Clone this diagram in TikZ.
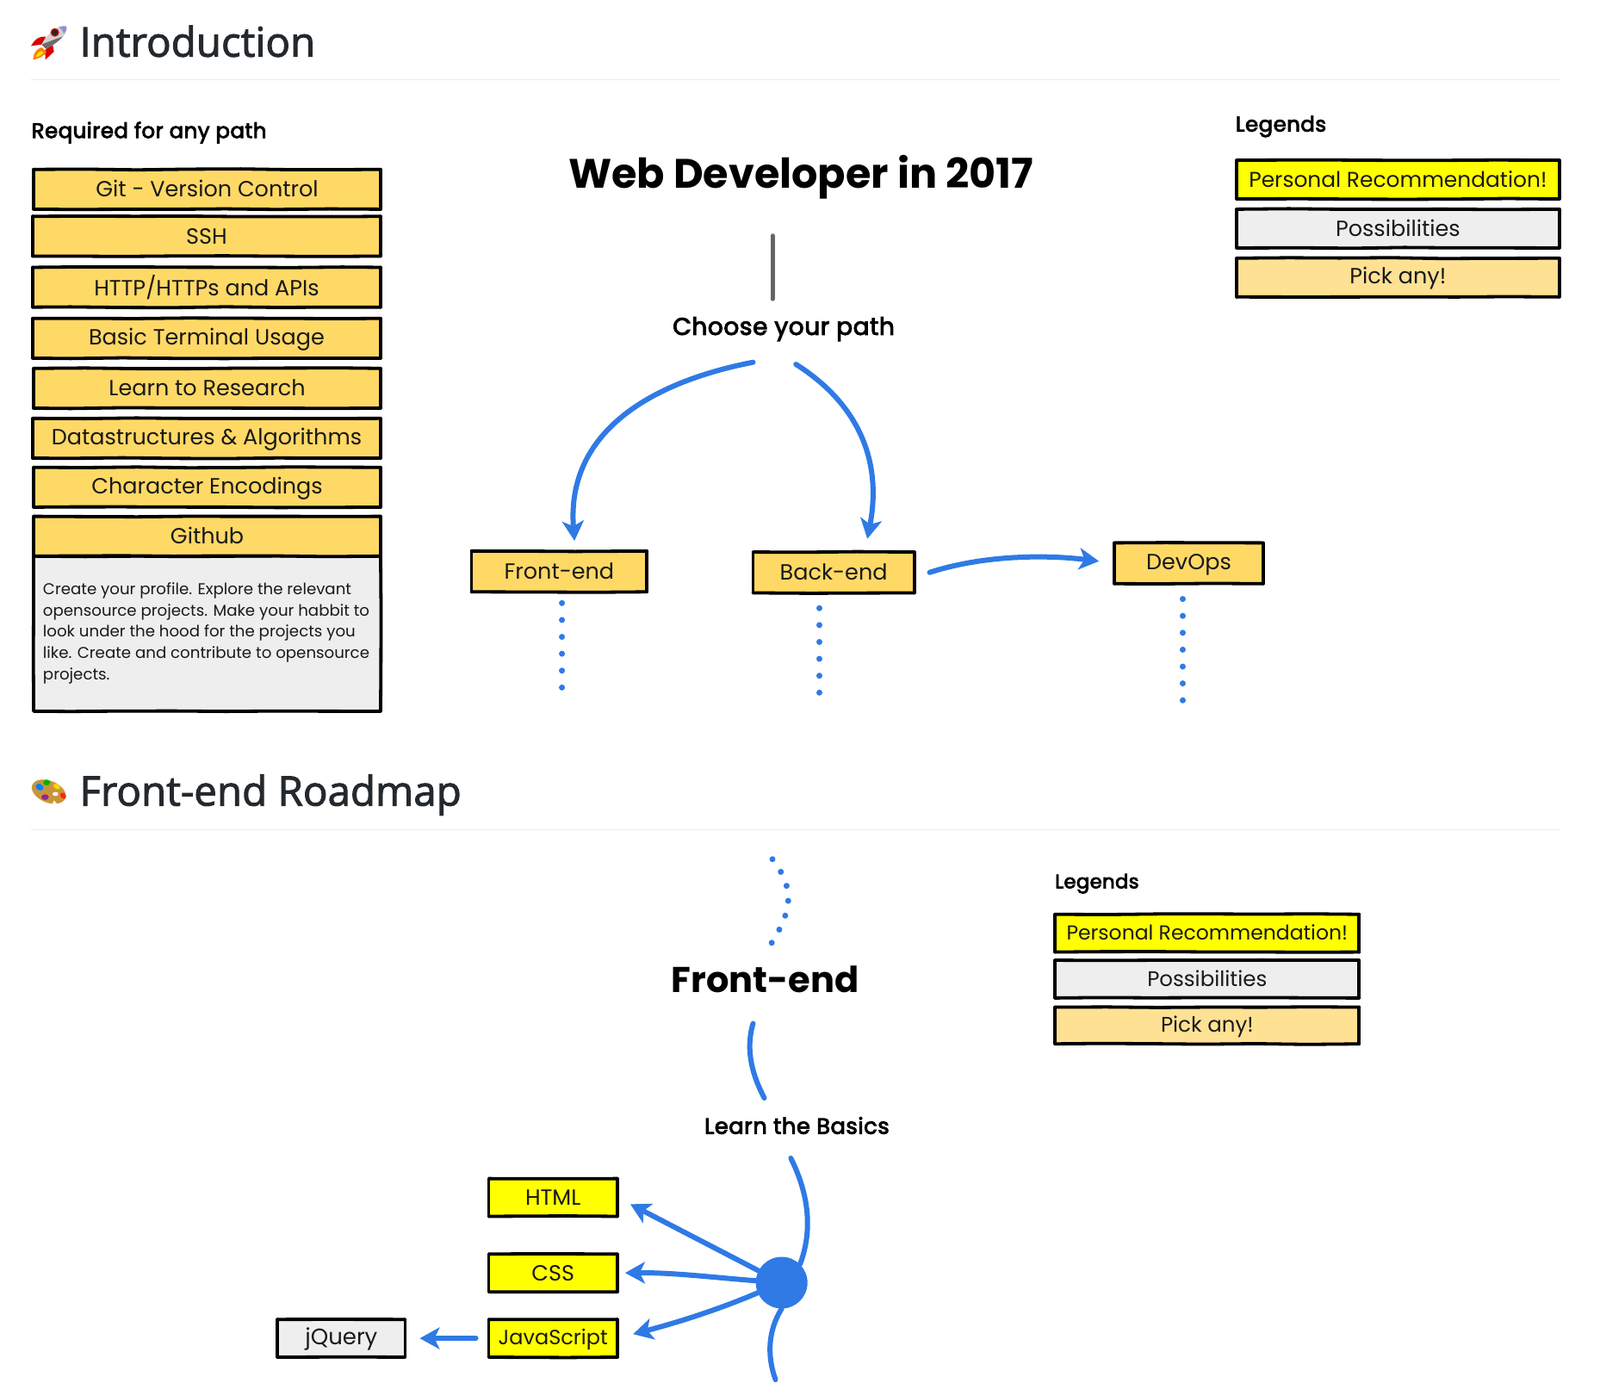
\documentclass[tikz,border=0pt]{standalone}
\usepackage{fontspec}
\usetikzlibrary{arrows.meta,decorations.pathmorphing,shapes.geometric}
\setmainfont{Poppins}
\newfontfamily\headfont{Open Sans}[FakeBold=2]
\newfontfamily\lblfont{Poppins}[FakeBold=3.5,LetterSpace=2]
\definecolor{gold}{HTML}{FFD966}
\definecolor{pale}{HTML}{FFE194}
\definecolor{greybox}{HTML}{EEEEEE}
\definecolor{yel}{HTML}{FFFF00}
\definecolor{blu}{HTML}{2F7AE5}
\definecolor{ink}{HTML}{24292E}
\definecolor{rulecol}{HTML}{EAECEF}
\definecolor{wood}{HTML}{C9953B}
\tikzset{
  sketchbox/.style={inner sep=0pt,outer sep=0pt,align=center,
     font=\fontsize{25.5}{28}\selectfont,text=black!90},
  boxsize/.style={font=\fontsize{#1}{28}\selectfont},
  handline/.style={draw=black,line width=3.8pt,line cap=round,
     decorate,decoration={random steps,segment length=60pt,amplitude=0.6pt}},
  label/.style={inner sep=0pt,outer sep=0pt,text=black,font=\lblfont\fontsize{24.4}{28}\selectfont},
  bigtitle/.style={inner sep=0pt,outer sep=0pt,text=black},
  head/.style={inner sep=0pt,outer sep=0pt,anchor=base west,text=ink,font=\headfont\fontsize{47.5}{50}\selectfont},
  rulel/.style={draw=rulecol,line width=1.6pt},
  flow/.style={draw=blu,line width=6pt,line cap=round},
  arrowed/.style={flow,-{Stealth[length=23pt,width=25pt,inset=6pt]}},
  dots/.style={draw=blu,line width=7pt,line cap=round,dash pattern=on 0.01pt off 19.6pt},
  curvedots/.style={dots,dash pattern=on 0.01pt off 17.6pt},
  stub/.style={draw=gray!80!black,line width=5pt,line cap=round},
}
% \bx[extra]{x1}{y1}{x2}{y2}{fill}{name}{text}
\newcommand{\bx}[8][]{%
  \node[sketchbox,fill=#6,minimum width={(#4-#2)*1.18495pt},minimum height={(#5-#3)*1.18495pt},#1] (#7) at ({(#2+#4)/2},{(#3+#5)/2}) {\vphantom{Aj}\raisebox{-2.4pt}{#8}};
  \draw[handline] (#7.north west) -- (#7.north east);
  \draw[handline] (#7.north east) -- (#7.south east);
  \draw[handline] (#7.south east) -- (#7.south west);
  \draw[handline] (#7.south west) -- (#7.north west);
}
\begin{document}
\begin{tikzpicture}[x=1.18495pt,y=-1.18495pt]
\useasboundingbox (0,0) rectangle (1568,1355.3);
\fill[white] (0,0) rectangle (1568,1355.3);
% headings
\node[head] (h1) at (78,55.5) {Introduction};
\draw[rulel] (30,78) -- (1529,78);
\node[head] (h2) at (78,789.5) {Front-end Roadmap};
\draw[rulel] (30,813) -- (1529,813);
% rocket
\begin{scope}[x=0.3333pt,y=-0.3333pt,shift={(20pt,-10pt)}]
 \fill[red!85!black] (100,98) .. controls (85,95) and (65,100) .. (48,130) -- (85,125) -- cycle;
 \fill[red!85!black] (122,118) -- (128,150) -- (98,178) -- (97,145) -- cycle;
 \fill[orange] (85,135) .. controls (65,140) and (55,160) .. (55,178) .. controls (75,175) and (95,165) .. (102,150) -- cycle;
 \fill[yellow!80!orange] (82,148) .. controls (70,152) and (65,165) .. (64,170) .. controls (75,168) and (88,160) .. (92,152) -- cycle;
 \fill[gray!35] (172,62) .. controls (145,58) and (115,72) .. (85,125) -- (100,140) .. controls (150,115) and (175,90) .. (172,62) -- cycle;
 \fill[gray!85!black] (85,125) -- (100,140) .. controls (125,128) and (145,113) .. (158,98) .. controls (135,105) and (110,115) .. (85,125) -- cycle;
 \fill[blue!45!gray!60] (172,62) .. controls (160,60) and (150,62) .. (145,64) .. controls (155,72) and (160,80) .. (163,88) .. controls (170,80) and (173,72) .. (172,62) -- cycle;
 \fill[red!85!black] (131,83) circle (15);
 \fill[black!85] (131,83) circle (10);
\end{scope}
% palette
\begin{scope}[x=0.3333pt,y=-0.3333pt,shift={(20pt,-890pt)}]
 \fill[wood] (110,88) ellipse [x radius=62,y radius=38,rotate=-22];
 \fill[white] (133,96) ellipse [x radius=10,y radius=7];
 \fill[white] (122,135) -- (128,118) -- (142,135) -- cycle;
 \fill[blue!50!cyan] (78,72) ellipse [x radius=14,y radius=11,rotate=-30];
 \fill[green!70!black] (103,56) ellipse [x radius=12,y radius=10];
 \fill[yellow!75!orange] (138,70) ellipse [x radius=13,y radius=8,rotate=-30];
 \fill[red!70!orange] (160,102) ellipse [x radius=12,y radius=9,rotate=-50];
 \fill[violet!85] (97,107) ellipse [x radius=13,y radius=10];
\end{scope}
% required column
\node[label,anchor=west] (req) at (31,130) {Required for any path};
\bx{33}{166}{373}{205}{gold}{git}{Git - Version Control}
\bx{32}{212}{373}{251}{gold}{ssh}{SSH}
\bx{32}{262}{373}{301}{gold}{http}{HTTP/HTTPs and APIs}
\bx{32}{312}{373}{351}{gold}{term}{Basic Terminal Usage}
\bx{33}{361}{373}{400}{gold}{research}{Learn to Research}
\bx{32}{410}{373}{449}{gold}{ds}{Datastructures \& Algorithms}
\bx{33}{458}{373}{497}{gold}{enc}{Character Encodings}
\bx{33}{545}{373}{697}{greybox}{descbox}{}
\bx{33}{506}{373}{545}{gold}{github}{Github}
\node[inner sep=0pt,anchor=west,align=left,text=black!90,font=\fontsize{18.2}{24.6}\selectfont] (desc) at (42,620.5) {Create your profile. Explore the relevant\\opensource projects. Make your habbit to\\look under the hood for the projects you\\like. Create and contribute to opensource\\projects.};
% title
\node[bigtitle,font=\bfseries\fontsize{47.7}{52}\selectfont] (title) at (785,174) {Web Developer in 2017};
\node[label,font=\lblfont\fontsize{28}{30}\selectfont] (choose) at (768,322.5) {Choose your path};
\coordinate (stubA) at (757,231);
\coordinate (stubB) at (757,293);
\draw[stub] (stubA) -- (stubB);
% legends top
\node[label,anchor=west] (leg1) at (1211,124) {Legends};
\bx[boxsize=24.9]{1212}{157}{1528}{195}{yel}{l1a}{Personal Recommendation!}
\bx{1212}{205}{1528}{243}{greybox}{l1b}{Possibilities}
\bx{1212}{253}{1528}{291}{pale}{l1c}{Pick any!}
% path boxes
\bx{462}{540}{634}{580}{gold}{fe}{Front-end}
\bx{738}{541}{896}{581}{gold}{be}{Back-end}
\bx{1092}{532}{1238}{572}{gold}{dev}{DevOps}
\coordinate (cL) at (738,355);
\coordinate (cR) at (780,357);
\coordinate (tL) at (563,530);
\coordinate (tR) at (850,528);
\coordinate (bS) at (911,561);
\coordinate (dS) at (1077,550);
\draw[arrowed] (cL) .. controls (635,375) and (555,425) .. (tL);
\draw[arrowed] (cR) .. controls (840,395) and (865,450) .. (tR);
\draw[arrowed] (bS) .. controls (960,545) and (1020,543) .. (dS);
\coordinate (d1) at (551,591); \coordinate (d1e) at (551,675);
\coordinate (d2) at (803,596); \coordinate (d2e) at (803,680);
\coordinate (d3) at (1159,587); \coordinate (d3e) at (1159,687);
\draw[dots] (d1) -- (d1e);
\draw[dots] (d2) -- (d2e);
\draw[dots] (d3) -- (d3e);
% second section
\coordinate (d4) at (757,842); \coordinate (d4e) at (755,926);
\draw[curvedots] (d4) .. controls (778,870) and (778,890) .. (d4e);
\node[bigtitle,font=\bfseries\fontsize{41.6}{46}\selectfont] (fetitle) at (750,960) {Front-end};
\node[label,font=\lblfont\fontsize{25.7}{30}\selectfont] (basics) at (781,1103) {Learn the Basics};
\coordinate (fA) at (738,1003);
\coordinate (fB) at (749,1076);
\draw[flow] (fA) .. controls (730,1030) and (738,1055) .. (fB);
\node[label,anchor=west,font=\lblfont\fontsize{22.6}{26}\selectfont] (leg2) at (1034,866) {Legends};
\bx[boxsize=23.5]{1034}{896}{1332}{933}{yel}{l2a}{Personal Recommendation!}
\bx[boxsize=24.5]{1034}{941}{1332}{978}{greybox}{l2b}{Possibilities}
\bx[boxsize=24.5]{1034}{987}{1332}{1023}{pale}{l2c}{Pick any!}
\bx{479}{1155}{605}{1192}{yel}{html}{HTML}
\bx{479}{1229}{605}{1266}{yel}{css}{CSS}
\bx[boxsize=24]{479}{1293}{605}{1330}{yel}{js}{JavaScript}
\bx[boxsize=26]{272}{1293}{397}{1330}{greybox}{jq}{jQuery}
\node[circle,fill=blu,minimum size=60pt,inner sep=0pt] (hub) at (766,1257) {};
\coordinate (bA) at (775,1135);
\coordinate (tail) at (760,1352);
\draw[flow] (bA) .. controls (795,1175) and (795,1210) .. (hub.north east);
\draw[flow] (hub.south) .. controls (752,1305) and (752,1330) .. (tail);
\draw[arrowed,shorten >=17pt] (hub) -- (html.east);
\draw[arrowed,shorten >=9pt] (hub) .. controls (700,1252) and (660,1247) .. (css.east);
\draw[arrowed,shorten >=19pt] (hub) .. controls (700,1285) and (660,1297) .. (js.east);
\draw[arrowed,shorten <=15pt,shorten >=17pt] (js.west) -- (jq.east);
\end{tikzpicture}
\end{document}
